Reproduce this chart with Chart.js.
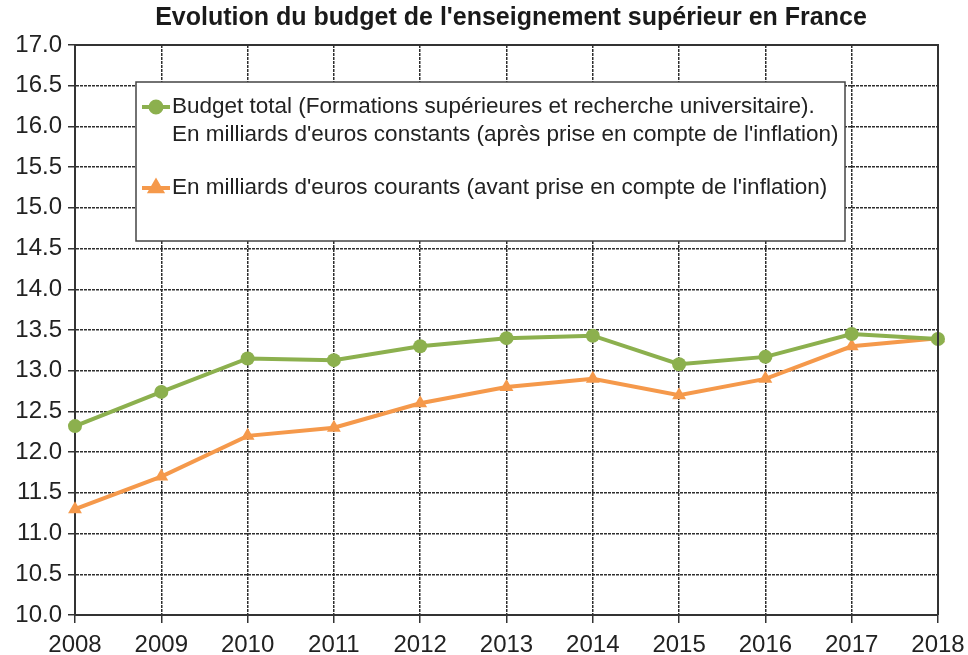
<!DOCTYPE html>
<html>
<head>
<meta charset="utf-8">
<script src="https://cdn.jsdelivr.net/npm/chart.js@4"></script>
<style>
  html, body { margin: 0; padding: 0; background: #fff; }
  #wrap { width: 968px; height: 655px; }
</style>
</head>
<body>
<div id="wrap"><canvas id="budgetChart"></canvas></div>
<script>
const years = ['2008', '2009', '2010', '2011', '2012', '2013', '2014', '2015', '2016', '2017', '2018'];
const budgetConstants = [12.32, 12.74, 13.15, 13.13, 13.3, 13.4, 13.43, 13.08, 13.17, 13.45, 13.39];
const budgetCourants = [11.3, 11.7, 12.2, 12.3, 12.6, 12.8, 12.9, 12.7, 12.9, 13.3, 13.4];
const legendLabels = [
    ['Budget total (Formations supérieures et recherche universitaire).',
     'En milliards d\'euros constants (après prise en compte de l\'inflation)'],
    ['En milliards d\'euros courants (avant prise en compte de l\'inflation)']
];
const chartTitle = 'Evolution du budget de l\'enseignement supérieur en France';

const green = '#8cb04e';
const orange = '#f5994b';
const fontFamily = '"Liberation Sans", Arial, sans-serif';

// title, frame and boxed legend drawn on the canvas
const decorPlugin = {
    id: 'decor',
    afterDraw(chart) {
        const ctx = chart.ctx;
        const a = chart.chartArea;
        ctx.save();
        ctx.strokeStyle = '#333';
        ctx.lineWidth = 2;
        ctx.beginPath();
        ctx.moveTo(a.left, a.top);
        ctx.lineTo(a.right, a.top);
        ctx.lineTo(a.right, a.bottom);
        ctx.stroke();

        ctx.fillStyle = '#1a1a1a';
        ctx.font = 'bold 25px ' + fontFamily;
        ctx.textAlign = 'center';
        ctx.textBaseline = 'middle';
        ctx.fillText(chartTitle, 511, 18);

        // legend box
        const bx = 136, by = 82, bw = 709, bh = 159;
        ctx.fillStyle = '#fff';
        ctx.fillRect(bx, by, bw, bh);
        ctx.strokeStyle = '#444';
        ctx.lineWidth = 1.5;
        ctx.strokeRect(bx, by, bw, bh);

        const items = [
            { color: green, style: 'circle', radius: 5.5, y: 107 },
            { color: orange, style: 'triangle', radius: 6.5, y: 188 }
        ];
        ctx.font = '22.5px ' + fontFamily;
        ctx.textAlign = 'left';
        items.forEach((it, i) => {
            ctx.strokeStyle = it.color;
            ctx.lineWidth = 4;
            ctx.beginPath();
            ctx.moveTo(142, it.y);
            ctx.lineTo(170, it.y);
            ctx.stroke();
            ctx.fillStyle = it.color;
            Chart.helpers.drawPoint(ctx, { pointStyle: it.style, radius: it.radius, borderWidth: 1 }, 156, it.y);
            ctx.fillStyle = '#222';
            legendLabels[i].forEach((line, j) => {
                ctx.fillText(line, 172, it.y + j * 28);
            });
        });
        ctx.restore();
    }
};

new Chart(document.getElementById('budgetChart'), {
    type: 'line',
    data: {
        labels: years,
        datasets: [{
            label: legendLabels[0].join(' '),
            data: budgetConstants,
            borderColor: green,
            backgroundColor: green,
            borderWidth: 4,
            pointStyle: 'circle',
            pointRadius: 7,
            pointBorderWidth: 0,
            tension: 0
        }, {
            label: legendLabels[1][0],
            data: budgetCourants,
            borderColor: orange,
            backgroundColor: orange,
            borderWidth: 4,
            pointStyle: 'triangle',
            pointRadius: 8,
            pointBorderWidth: 0,
            tension: 0
        }]
    },
    options: {
        responsive: true,
        maintainAspectRatio: false,
        animation: false,
        layout: { padding: { top: 45, right: 30, left: 0, bottom: 0 } },
        plugins: {
            legend: { display: false },
            title: { display: false },
            tooltip: { enabled: false }
        },
        scales: {
            x: {
                offset: false,
                afterFit(scale) {
                    scale.height = 40;
                    scale.paddingLeft = 0;
                    scale.paddingRight = 0;
                },
                grid: {
                    color: '#2e2e2e',
                    lineWidth: 1.5,
                    tickLength: 8,
                    tickBorderDash: [],
                    tickColor: '#333'
                },
                border: { display: true, color: '#333', width: 2, dash: [3, 1] },
                ticks: {
                    color: '#222',
                    font: { family: fontFamily, size: 24 },
                    padding: 8,
                    maxRotation: 0,
                    autoSkip: false
                }
            },
            y: {
                min: 10,
                max: 17,
                afterFit(scale) { scale.width = 75; },
                grid: {
                    color: '#2e2e2e',
                    lineWidth: 1.5,
                    tickLength: 7,
                    tickBorderDash: [],
                    tickColor: '#333'
                },
                border: { display: true, color: '#333', width: 2, dash: [3, 1] },
                ticks: {
                    stepSize: 0.5,
                    color: '#222',
                    font: { family: fontFamily, size: 24 },
                    padding: 6,
                    callback: v => v.toFixed(1)
                }
            }
        }
    },
    plugins: [decorPlugin]
});
</script>
</body>
</html>
